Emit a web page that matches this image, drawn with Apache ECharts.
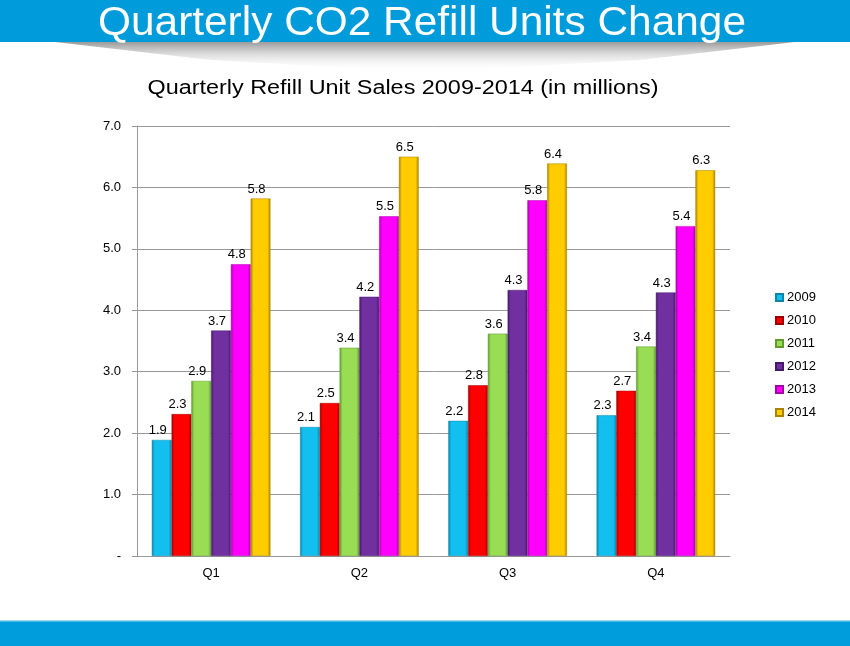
<!DOCTYPE html>
<html><head><meta charset="utf-8">
<script src="https://cdn.jsdelivr.net/npm/echarts@6/dist/echarts.min.js"></script>
<style>html,body{margin:0;padding:0;background:#fff}#c{width:850px;height:646px}</style>
</head><body><div id="c"></div>
<script>
const categories = ['Q1','Q2','Q3','Q4'];
const years = ['2009','2010','2011','2012','2013','2014'];
const s2009 = [1.89, 2.10, 2.20, 2.29];
const s2010 = [2.31, 2.49, 2.78, 2.69];
const s2011 = [2.85, 3.39, 3.62, 3.41];
const s2012 = [3.67, 4.22, 4.33, 4.29];
const s2013 = [4.75, 5.53, 5.79, 5.37];
const s2014 = [5.82, 6.50, 6.39, 6.28];
const seriesData = [s2009, s2010, s2011, s2012, s2013, s2014];
const colors = ['#12BFEF','#FF0000','#99DD55','#7030A0','#FF00FF','#FFCC00'];
const darks  = ['#0A86A8','#A00000','#5E9A2E','#45186A','#A800A8','#A88400'];

const chart = echarts.init(document.getElementById('c'));
const series = years.map((y,i)=>({
  name: y, type: 'bar', data: seriesData[i],
  barGap: '0%', barCategoryGap: '20%',
  itemStyle: {
    color: new echarts.graphic.LinearGradient(0,0,1,0,[
      {offset:0,color:darks[i]},{offset:0.15,color:colors[i]},
      {offset:0.85,color:colors[i]},{offset:1,color:darks[i]}]),
    borderColor: darks[i], borderWidth: 0.5
  },
  label: { show: true, position: 'top', distance: 3, offset: [-4,0],
    color: '#000', fontFamily: 'Liberation Sans', fontSize: 13,
    formatter: p => p.value.toFixed(1) }
}));

chart.setOption({
  animation: false,
  graphic: [
    { type:'rect', shape:{x:0,y:0,width:850,height:42}, style:{fill:'#009BDB'}, z:-1 },
    { type:'polygon', shape:{points:[[55,42],[795,42],[640,60],[425,72],[210,60]]},
      style:{fill: new echarts.graphic.LinearGradient(0,0,0,1,[
        {offset:0,color:'rgba(120,120,120,0.75)'},{offset:1,color:'rgba(255,255,255,0)'}])}, z:-2 },
    { type:'text', x:422, y:23.5, scaleX:1.06, style:{text:'Quarterly CO2 Refill Units Change',
      fill:'#fff', font:'40px "Liberation Sans", Arial, sans-serif', align:'center', verticalAlign:'middle'} },
    { type:'text', x:403, y:88, scaleX:1.17, style:{text:'Quarterly Refill Unit Sales 2009-2014 (in millions)',
      fill:'#000', font:'20px "Liberation Sans", Arial, sans-serif', align:'center', verticalAlign:'middle'} },
    { type:'rect', shape:{x:0,y:620,width:850,height:26}, style:{fill:'#009DDC'} },
    { type:'rect', shape:{x:0,y:620,width:850,height:1.5}, style:{fill:'#9BD4EE'} }
  ],
  legend: {
    orient:'vertical', left:770, top:286, itemWidth:7, itemHeight:7, itemGap:10,
    icon:'rect', data: years,
    textStyle:{fontFamily:'Liberation Sans', fontSize:13, color:'#000', padding:[0,0,0,-1]}
  },
  grid: { left:137, top:126, width:593, height:430, containLabel:false },
  xAxis: { type:'category', data: categories,
    axisLine:{lineStyle:{color:'#999', width:1}}, axisTick:{show:false},
    axisLabel:{color:'#000', fontFamily:'Liberation Sans', fontSize:13, margin:11} },
  yAxis: { type:'value', min:0, max:7, interval:1,
    axisLine:{show:true, lineStyle:{color:'#999'}},
    axisTick:{show:true, length:5, lineStyle:{color:'#999'}},
    splitLine:{lineStyle:{color:'#999'}},
    axisLabel:{color:'#000', fontFamily:'Liberation Sans', fontSize:13, margin:16,
      formatter: v => v === 0 ? '-' : v.toFixed(1)} },
  series
});
</script></body></html>
